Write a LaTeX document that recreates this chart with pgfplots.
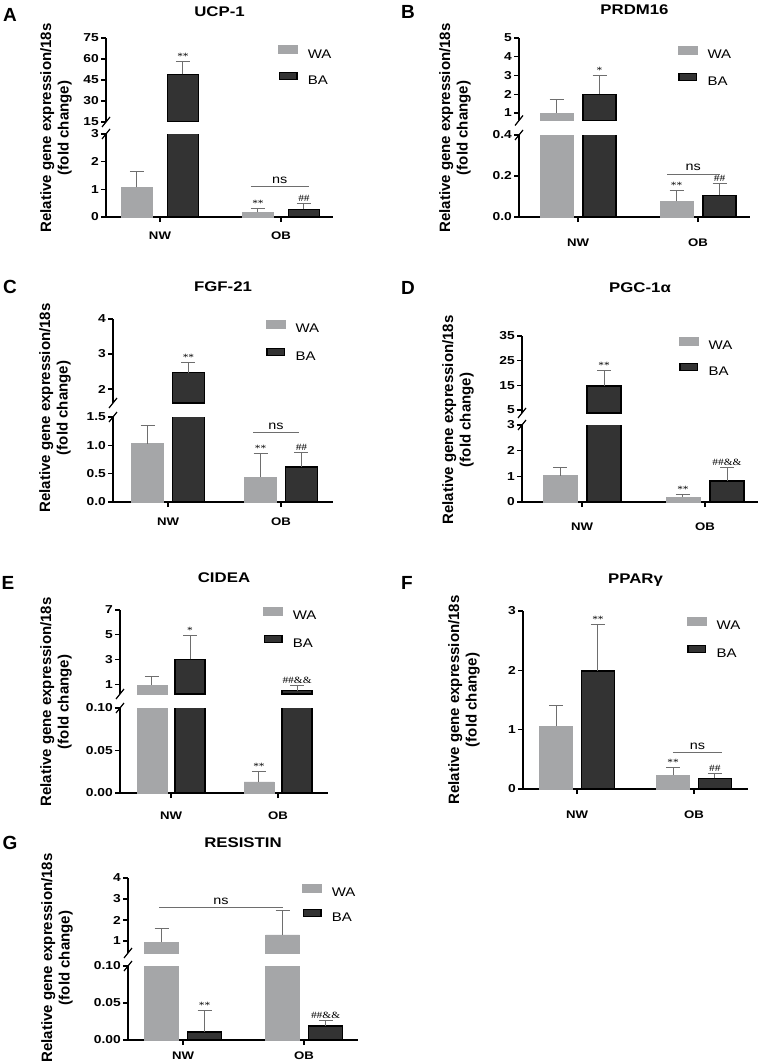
\documentclass[border=0pt]{standalone}
\usepackage{fontspec}
\setmainfont{Liberation Sans}
\newfontfamily\wide[FakeStretch=1.2]{Liberation Sans}
\newfontfamily\serifff[FakeStretch=1.2]{Liberation Serif}
\usepackage{pgfplots}
\pgfplotsset{compat=1.18}
\definecolor{wacol}{HTML}{A5A6A8}
\definecolor{bacol}{HTML}{333333}
\definecolor{errcol}{HTML}{6E6E6E}
\newcommand\fs[1]{\fontsize{#1}{#1}\selectfont}
\pgfplotsset{
 common/.style={scale only axis, anchor=south west, clip mode=individual,
   axis line style={line width=1.4pt}, tick style={line width=1.2pt, black},
   tick align=outside, major tick length=5pt,
   yticklabel style={font=\wide\bfseries\fs{11.5}, inner sep=2pt},
   xticklabel style={font=\wide\bfseries\fs{11}},
   ylabel style={font=\bfseries\fontsize{15}{17.5}\selectfont, align=center, anchor=center},
   title style={font=\wide\bfseries\fs{14}, anchor=center, yshift=-6pt},
   legend style={draw=none, fill=none, inner sep=0pt, anchor=north west, font=\wide\fs{12.5},
     column sep=10pt, nodes={inner sep=0pt, text depth=0pt}},
   legend cell align=left},
 lower/.style={common, axis x line*=bottom, axis y line*=left, xtick={1,2}, xticklabels={NW,OB}, ymin=0},
 upper/.style={common, axis x line=none, axis y line*=left, xtick=\empty, restrict y to domain=#1:10000},
 eb/.style={/pgfplots/error bars/y dir=plus, /pgfplots/error bars/y explicit,
   /pgfplots/error bars/error bar style={line width=1pt, errcol},
   /pgfplots/error bars/error mark options={line width=1pt, errcol, mark size=7pt, rotate=90}},
 wa/.style={ybar, bar shift=0pt, fill=wacol, draw=wacol, line width=0.5pt,
   /pgfplots/legend image code/.code={\fill[wacol] (0pt,0pt) rectangle (19pt,8pt);}, eb},
 ba/.style={ybar, bar shift=0pt, fill=bacol, draw=black, line width=1.4pt,
   /pgfplots/legend image code/.code={\filldraw[fill=bacol, draw=black, line width=1.2pt] (0.6pt,0.6pt) rectangle (18.4pt,7.4pt);}, eb},
}
\tikzset{
 ann/.style={anchor=base, inner sep=0pt, font=\serifff\fs{9.5}, yshift=2pt},
 nsl/.style={errcol, line width=0.9pt},
 nst/.style={anchor=base, inner sep=0pt, font=\wide\fs{12}, yshift=3pt},
 brk/.style={line width=1.2pt, black},
 letter/.style={font=\bfseries\fs{19}},
}
\begin{document}
\begin{tikzpicture}
\path[use as bounding box, fill=white] (0pt,0pt) rectangle (759pt,-1062pt);
% letters
\node[letter] at (10pt,-15pt) {A};
\node[letter] at (408pt,-12pt) {B};
\node[letter] at (10pt,-287pt) {C};
\node[letter] at (408pt,-288pt) {D};
\node[letter] at (8pt,-583pt) {E};
\node[letter] at (407pt,-583pt) {F};
\node[letter] at (10pt,-843pt) {G};

% ===== A: UCP-1 =====
\begin{axis}[lower, at={(106pt,-217pt)}, width=227pt, height=83pt, xmin=0.554, xmax=2.43, bar width=0.256,
  ymax=3, ytick={0,1,2,3}, yticklabels={0,1,2,3}, xticklabel style={yshift=-6pt},
  ylabel={Relative gene expression/18s\\(fold change)}, ylabel style={at={(axis description cs:-0.22,1.072)}},
  legend style={at={(axis description cs:0.758,2.069)}, row sep=14pt}]
\addplot[wa] coordinates {(0.81,1.07) +- (0,0.56) (1.81,0.17) +- (0,0.13)};
\addplot[ba] coordinates {(1.19,49) +- (0,9) (2.19,0.28) +- (0,0.22)};
\draw[brk] (rel axis cs:0,1) ++(-4pt,-5pt) -- ++(8pt,10pt);
\node[ann] at (axis cs:1.81,0.30) {**};
\node[ann] at (axis cs:2.19,0.50) {\#\#};
\draw[nsl] (axis cs:1.752,1.12) -- (axis cs:2.231,1.12);
\node[nst] at (axis cs:1.99,1.12) {ns};
\legend{WA,BA}
\end{axis}
\begin{axis}[upper=15, at={(106pt,-122pt)}, width=227pt, height=84pt, xmin=0.554, xmax=2.43, bar width=0.256,
  ymin=15, ymax=75, ytick={15,30,45,60,75}, yticklabels={15,30,45,60,75},
  title={UCP-1}, title style={at={(axis description cs:0.5,1.31)}}]
\addplot[wa] coordinates {(0.81,1.07) +- (0,0.56) (1.81,0.17) +- (0,0.13)};
\addplot[ba] coordinates {(1.19,49) +- (0,9) (2.19,0.28) +- (0,0.22)};
\draw[brk] (rel axis cs:0,0) ++(-4pt,-5pt) -- ++(8pt,10pt);
\node[ann] at (axis cs:1.19,58) {**};
\end{axis}

% ===== B: PRDM16 =====
\begin{axis}[lower, at={(519pt,-217pt)}, width=231pt, height=82pt, xmin=0.508, xmax=2.433, bar width=0.275,
  ymax=0.4, ytick={0,0.2,0.4}, yticklabels={0.0,0.2,0.4}, xticklabel style={yshift=-13pt},
  ylabel={Relative gene expression/18s\\(fold change)}, ylabel style={at={(axis description cs:-0.277,1.085)}},
  legend style={at={(axis description cs:0.688,2.085)}, row sep=14pt}]
\addplot[wa] coordinates {(0.821,1.0) +- (0,0.72) (1.821,0.077) +- (0,0.053)};
\addplot[ba] coordinates {(1.179,2.0) +- (0,1.0) (2.179,0.105) +- (0,0.058)};
\draw[brk] (rel axis cs:0,1) ++(-4pt,-5pt) -- ++(8pt,10pt);
\node[ann] at (axis cs:1.821,0.13) {**};
\node[ann] at (axis cs:2.179,0.163) {\#\#};
\draw[nsl] (axis cs:1.742,0.21) -- (axis cs:2.183,0.21);
\node[nst] at (axis cs:1.96,0.21) {ns};
\legend{WA,BA}
\end{axis}
\begin{axis}[upper=0.6, at={(519pt,-120.5pt)}, width=231pt, height=82.5pt, xmin=0.508, xmax=2.433, bar width=0.275,
  ymin=0.6, ymax=5, ytick={1,2,3,4,5}, yticklabels={1,2,3,4,5},
  title={PRDM16}, title style={at={(axis description cs:0.5,1.339)}}]
\addplot[wa] coordinates {(0.821,1.0) +- (0,0.72) (1.821,0.077) +- (0,0.053)};
\addplot[ba] coordinates {(1.179,2.0) +- (0,1.0) (2.179,0.105) +- (0,0.058)};
\draw[brk] (rel axis cs:0,0) ++(-4pt,-5pt) -- ++(8pt,10pt);
\node[ann] at (axis cs:1.179,3.0) {*};
\end{axis}

% ===== C: FGF-21 =====
\begin{axis}[lower, at={(113pt,-502pt)}, width=220pt, height=85pt, xmin=0.513, xmax=2.46, bar width=0.283,
  ymax=1.5, ytick={0,0.5,1,1.5}, yticklabels={0.0,0.5,1.0,1.5}, xticklabel style={yshift=-7pt},
  ylabel={Relative gene expression/18s\\(fold change)}, ylabel style={at={(axis description cs:-0.264,1.106)}},
  legend style={at={(axis description cs:0.695,2.141)}, row sep=15pt}]
\addplot[wa] coordinates {(0.819,1.03) +- (0,0.32) (1.819,0.44) +- (0,0.42)};
\addplot[ba] coordinates {(1.181,2.47) +- (0,0.28) (2.181,0.62) +- (0,0.25)};
\draw[brk] (rel axis cs:0,1) ++(-4pt,-5pt) -- ++(8pt,10pt);
\node[ann] at (axis cs:1.819,0.86) {**};
\node[ann] at (axis cs:2.181,0.87) {\#\#};
\draw[nsl] (axis cs:1.752,1.22) -- (axis cs:2.159,1.22);
\node[nst] at (axis cs:1.956,1.22) {ns};
\legend{WA,BA}
\end{axis}
\begin{axis}[upper=1.6, at={(113pt,-403pt)}, width=220pt, height=84pt, xmin=0.513, xmax=2.46, bar width=0.283,
  ymin=1.6, ymax=4, ytick={2,3,4}, yticklabels={2,3,4},
  title={FGF-21}, title style={at={(axis description cs:0.5,1.381)}}]
\addplot[wa] coordinates {(0.819,1.03) +- (0,0.32) (1.819,0.44) +- (0,0.42)};
\addplot[ba] coordinates {(1.181,2.47) +- (0,0.28) (2.181,0.62) +- (0,0.25)};
\draw[brk] (rel axis cs:0,0) ++(-4pt,-5pt) -- ++(8pt,10pt);
\node[ann] at (axis cs:1.181,2.75) {**};
\end{axis}

% ===== D: PGC-1a =====
\begin{axis}[lower, at={(522pt,-502pt)}, width=236pt, height=77pt, xmin=0.512, xmax=2.431, bar width=0.276,
  ymax=3, ytick={0,1,2,3}, yticklabels={0,1,2,3}, xticklabel style={yshift=-12pt},
  ylabel={Relative gene expression/18s\\(fold change)}, ylabel style={at={(axis description cs:-0.271,1.065)}},
  legend style={at={(axis description cs:0.665,2.143)}, row sep=13pt}]
\addplot[wa] coordinates {(0.821,1.03) +- (0,0.31) (1.821,0.19) +- (0,0.10)};
\addplot[ba] coordinates {(1.179,14.7) +- (0,6.5) (2.179,0.82) +- (0,0.54)};
\draw[brk] (rel axis cs:0,1) ++(-4pt,-5pt) -- ++(8pt,10pt);
\node[ann] at (axis cs:1.821,0.29) {**};
\node[ann] at (axis cs:2.179,1.36) {\#\#\&\&};
\legend{WA,BA}
\end{axis}
\begin{axis}[upper=3.8, at={(522pt,-413pt)}, width=236pt, height=77pt, xmin=0.512, xmax=2.431, bar width=0.276,
  ymin=3.8, ymax=35, ytick={5,15,25,35}, yticklabels={5,15,25,35},
  title={PGC-1α}, title style={at={(axis description cs:0.5,1.623)}}]
\addplot[wa] coordinates {(0.821,1.03) +- (0,0.31) (1.821,0.19) +- (0,0.10)};
\addplot[ba] coordinates {(1.179,14.7) +- (0,6.5) (2.179,0.82) +- (0,0.54)};
\draw[brk] (rel axis cs:0,0) ++(-4pt,-5pt) -- ++(8pt,10pt);
\node[ann] at (axis cs:1.179,21.2) {**};
\end{axis}

% ===== E: CIDEA =====
\begin{axis}[lower, at={(120pt,-793pt)}, width=208pt, height=85pt, xmin=0.523, xmax=2.467, bar width=0.28,
  ymax=0.1, ytick={0,0.05,0.1}, yticklabels={0.00,0.05,0.10}, xticklabel style={yshift=-10pt},
  ylabel={Relative gene expression/18s\\(fold change)}, ylabel style={at={(axis description cs:-0.308,1.071)}},
  legend style={at={(axis description cs:0.688,2.188)}, row sep=15pt}]
\addplot[wa] coordinates {(0.822,0.93) +- (0,0.72) (1.822,0.013) +- (0,0.012)};
\addplot[ba] coordinates {(1.178,3.0) +- (0,1.92) (2.178,0.48) +- (0,0.44)};
\draw[brk] (rel axis cs:0,1) ++(-4pt,-5pt) -- ++(8pt,10pt);
\node[ann] at (axis cs:1.822,0.025) {**};
\legend{WA,BA}
\end{axis}
\begin{axis}[upper=0.2, at={(120pt,-694pt)}, width=208pt, height=84pt, xmin=0.523, xmax=2.467, bar width=0.28,
  ymin=0.2, ymax=7, ytick={1,3,5,7}, yticklabels={1,3,5,7},
  title={CIDEA}, title style={at={(axis description cs:0.5,1.381)}}]
\addplot[wa] coordinates {(0.822,0.93) +- (0,0.72) (1.822,0.013) +- (0,0.012)};
\addplot[ba] coordinates {(1.178,3.0) +- (0,1.92) (2.178,0.48) +- (0,0.44)};
\draw[brk] (rel axis cs:0,0) ++(-4pt,-5pt) -- ++(8pt,10pt);
\node[ann] at (axis cs:1.178,4.92) {*};
\node[ann] at (axis cs:2.178,0.92) {\#\#\&\&};
\end{axis}

% ===== F: PPARg =====
\begin{axis}[lower, at={(523pt,-789pt)}, width=225pt, height=178pt, xmin=0.538, xmax=2.462, bar width=0.282,
  ymax=3, ytick={0,1,2,3}, yticklabels={0,1,2,3}, xticklabel style={yshift=-13pt},
  ylabel={Relative gene expression/18s\\(fold change)}, ylabel style={at={(axis description cs:-0.262,0.5)}},
  title={PPARγ}, title style={at={(axis description cs:0.5,1.174)}},
  legend style={at={(axis description cs:0.729,0.966)}, row sep=15pt}]
\addplot[wa] coordinates {(0.821,1.06) +- (0,0.35) (1.821,0.236) +- (0,0.13)};
\addplot[ba] coordinates {(1.179,1.99) +- (0,0.79) (2.179,0.18) +- (0,0.084)};
\node[ann] at (axis cs:1.179,2.78) {**};
\node[ann] at (axis cs:1.821,0.365) {**};
\node[ann] at (axis cs:2.179,0.264) {\#\#};
\draw[nsl] (axis cs:1.82,0.62) -- (axis cs:2.239,0.62);
\node[nst] at (axis cs:2.03,0.62) {ns};
\legend{WA,BA}
\end{axis}

% ===== G: RESISTIN =====
\begin{axis}[lower, at={(128pt,-1040pt)}, width=230pt, height=74pt, xmin=0.545, xmax=2.446, bar width=0.281,
  ymax=0.1, ytick={0,0.05,0.1}, yticklabels={0.00,0.05,0.10}, xticklabel style={yshift=-3pt},
  ylabel={Relative gene expression/18s\\(fold change)}, ylabel style={at={(axis description cs:-0.309,1.108)}},
  legend style={at={(axis description cs:0.757,2.108)}, row sep=12pt}]
\addplot[wa] coordinates {(0.822,0.95) +- (0,0.67) (1.822,1.29) +- (0,1.16)};
\addplot[ba] coordinates {(1.178,0.011) +- (0,0.029) (2.178,0.019) +- (0,0.007)};
\draw[brk] (rel axis cs:0,1) ++(-4pt,-5pt) -- ++(8pt,10pt);
\node[ann] at (axis cs:1.178,0.04) {**};
\node[ann] at (axis cs:2.178,0.026) {\#\#\&\&};
\legend{WA,BA}
\end{axis}
\begin{axis}[upper=0.43, at={(128pt,-953pt)}, width=230pt, height=75pt, xmin=0.545, xmax=2.446, bar width=0.281,
  ymin=0.43, ymax=4, ytick={1,2,3,4}, yticklabels={1,2,3,4},
  title={RESISTIN}, title style={at={(axis description cs:0.5,1.467)}}]
\addplot[wa] coordinates {(0.822,0.95) +- (0,0.67) (1.822,1.29) +- (0,1.16)};
\addplot[ba] coordinates {(1.178,0.011) +- (0,0.029) (2.178,0.019) +- (0,0.007)};
\draw[brk] (rel axis cs:0,0) ++(-4pt,-5pt) -- ++(8pt,10pt);
\draw[nsl] (axis cs:0.802,2.62) -- (axis cs:1.826,2.62);
\node[nst] at (axis cs:1.314,2.62) {ns};
\end{axis}
\end{tikzpicture}
\end{document}
